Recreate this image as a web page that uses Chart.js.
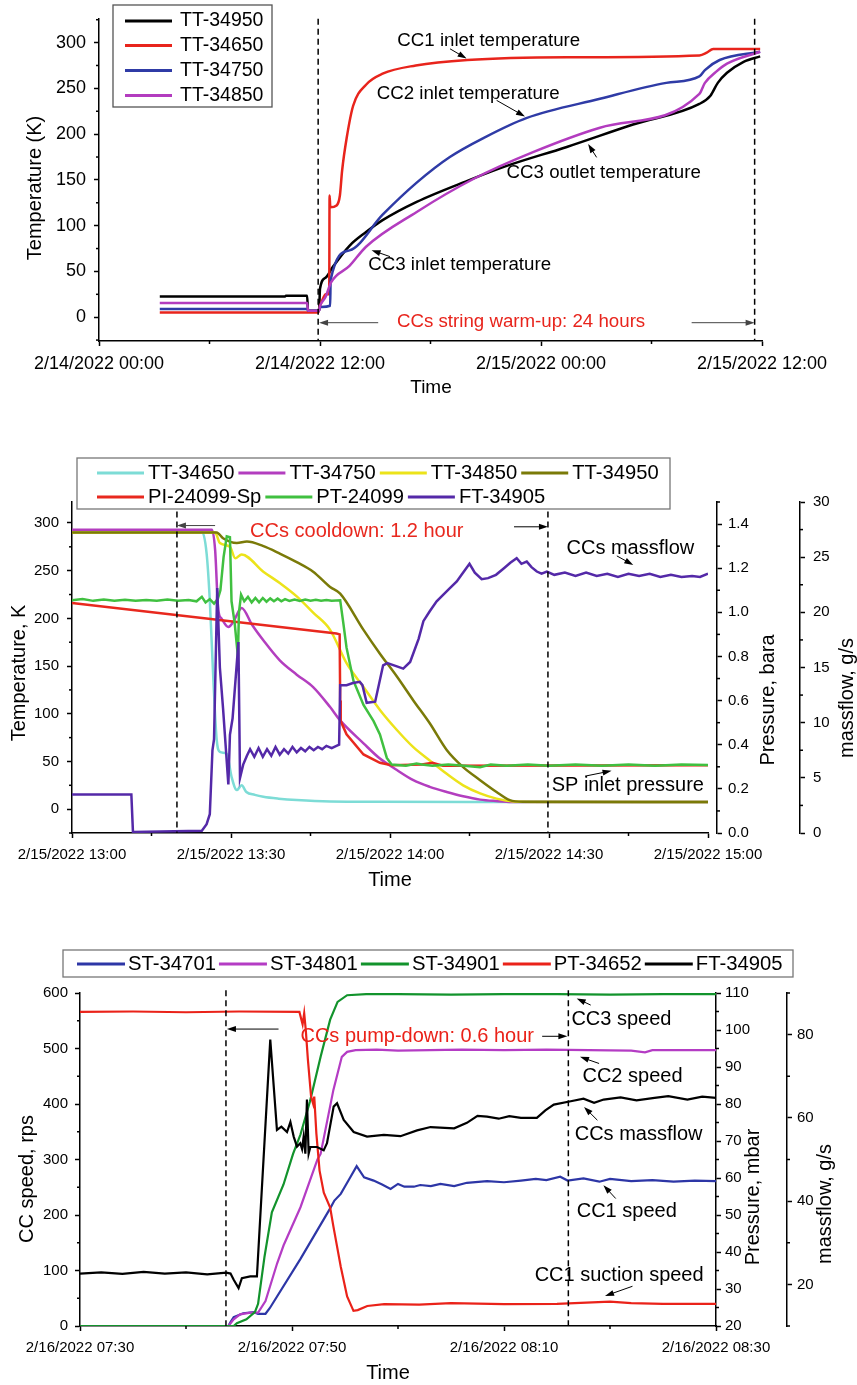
<!DOCTYPE html>
<html>
<head>
<meta charset="utf-8">
<title>CCs string warm-up, cooldown and pump-down</title>
<script src="https://cdn.jsdelivr.net/npm/chart.js@4.4.1/dist/chart.umd.min.js"></script>
<style>
  html, body { margin: 0; padding: 0; background: #fff; }
  body { position: relative; width: 857px; height: 1385px; overflow: hidden; }
  canvas { position: absolute; left: 0; }
  #warmup { top: 0; }
  #cooldown { top: 450px; }
  #pumpdown { top: 940px; }
</style>
</head>
<body>
<canvas id="warmup" width="857" height="405"></canvas>
<canvas id="cooldown" width="857" height="450"></canvas>
<canvas id="pumpdown" width="857" height="445"></canvas>
<script>
// ---------- Panel 1 : warm-up (x = hours after 2/14/2022 00:00, y = K) ----------
const warmTickHours = [0, 12, 24, 36];
const warmTickLabels = ['2/14/2022 00:00', '2/14/2022 12:00', '2/15/2022 00:00', '2/15/2022 12:00'];
const warmTempTicks = [0, 50, 100, 150, 200, 250, 300];

const tt34950Warm = [[3.3,22.5],[10.1,22.5],[10.15,23.5],[11.3,23.5],[11.35,7],[11.95,7],[12.0,31],[12.3,43],[12.7,55],[13.6,78],[14.5,93],[15.4,106],[17.25,126],[20,149],[22.1,165],[25.4,186],[29,210.5],[32.6,233],[33.2,242],[33.6,256],[34.1,267],[35.0,279],[35.9,285]];
const tt34650Warm = [[3.3,5],[11.9,5],[12.0,12],[12.2,22],[12.3,25],[12.5,25],[12.52,133],[12.56,120],[12.9,122],[13.08,133],[13.2,160],[13.45,196],[13.8,231],[14.5,254],[15.4,266],[17.2,275],[20,281],[25.4,284],[32.6,286],[33.0,289],[33.35,293],[35.9,293]];
const tt34750Warm = [[3.3,9],[11.3,9],[11.35,7],[11.95,7],[12.0,11],[12.55,12.5],[12.58,41],[13.6,73],[15.4,112],[17.25,147],[19.05,175],[20.9,196],[23.2,217.5],[27.2,238.6],[30.8,256],[32.6,263],[32.9,270],[33.7,281],[35.9,290]];
const tt34850Warm = [[3.3,15.5],[11.3,15.5],[11.35,7],[11.95,7],[12.0,12],[12.3,22],[12.6,38],[13.6,56],[14.5,77],[17.25,115],[20.3,150.7],[23.6,180.6],[27.2,207],[32.6,244],[32.9,256],[33.5,268],[34.1,277],[35.9,290]];

// ---------- Panel 2 : cooldown (x = minutes after 2/15/2022 13:00) ----------
const coolTickMinutes = [0, 30, 60, 90, 120];
const coolTickLabels = ['2/15/2022 13:00', '2/15/2022 13:30', '2/15/2022 14:00', '2/15/2022 14:30', '2/15/2022 15:00'];
const coolTempTicks = [0, 50, 100, 150, 200, 250, 300];
const coolPressTicks = [0, 0.2, 0.4, 0.6, 0.8, 1.0, 1.2, 1.4];
const coolFlowTicks = [0, 5, 10, 15, 20, 25, 30];

const tt34650Cool = [[0,291],[24.5,291],[25.4,268],[26.0,219],[26.7,132],[27.3,73],[27.9,60],[29.2,58],[30.1,34],[31.1,20],[32.0,25],[32.9,18],[34.5,15],[36.1,13],[39,11],[42.4,9.5],[48.7,8],[58.1,7.7],[85,7.6],[120,7.6]];
const tt34750Cool = [[0,293],[26.4,293],[27.0,272],[27.6,209],[28.2,200],[29.5,191],[30.5,197],[31.5,208],[32.0,211],[34,193],[36.1,177],[39.2,156],[42.4,141],[45.5,128],[48.7,107],[50.6,93],[55,69],[58.1,53],[61.3,41],[64.4,30.4],[67.5,23.4],[70.7,18],[73.8,13.5],[77,10],[80,8.5],[83,7.6],[120,7.5]];
const tt34850Cool = [[0,290],[27.0,290],[27.9,279],[29.8,275],[30.8,263],[32.0,267],[36.1,249],[39.2,237],[42.4,223],[45.5,206],[48.7,188],[51.8,153],[55,128],[58.1,104],[61.3,83],[64.4,65],[67.5,51],[70.7,37],[73.8,25],[77,16.5],[80.1,11],[83.3,8],[88,7.5],[120,7.5]];
const tt34950Cool = [[0,290],[27.3,290],[28.5,284],[31.1,279],[33.0,280.5],[36,276],[39.2,268],[42.4,259],[45.5,249],[48.7,233],[50.6,226],[55,188],[58.1,163],[61.3,139],[64.4,114],[67.5,90],[70.7,62],[73.8,44],[77,30.4],[80.1,18],[82.6,9.4],[85.1,7.7],[120,7.5]];
const pi24099Sp = [[0,1.042],[49.9,0.904],[50.5,0.9],[50.6,0.6],[50.7,0.507],[51.8,0.447],[55,0.356],[58.1,0.318],[60.3,0.307],[66,0.31],[68,0.318],[70,0.305],[120,0.307]];
const pt24099 = [[0,1.055],[2,1.06],[4,1.052],[6,1.058],[8,1.053],[10,1.057],[12,1.052],[14,1.056],[16,1.053],[18,1.058],[20,1.052],[22,1.056],[23.5,1.05],[24.5,1.07],[25.2,1.045],[26.0,1.06],[26.8,1.04],[27.5,1.06],[28.0,1.1],[28.6,1.25],[29.2,1.344],[29.8,1.34],[30.1,1.05],[30.7,0.95],[31.3,0.8],[31.5,1.0],[31.9,1.08],[32.5,1.05],[33.2,1.07],[33.9,1.045],[34.6,1.065],[35.3,1.045],[36.0,1.065],[36.7,1.048],[37.4,1.063],[38.1,1.05],[38.8,1.062],[39.5,1.05],[40.2,1.06],[41,1.052],[42,1.058],[43,1.052],[44,1.058],[45,1.053],[46,1.057],[47,1.053],[48,1.056],[49,1.053],[50.6,1.055],[51.2,0.95],[51.8,0.84],[53.1,0.69],[55,0.58],[56.9,0.507],[58.1,0.447],[59.4,0.34],[60.3,0.31],[63,0.305],[65,0.315],[66,0.31],[68,0.305],[71,0.31],[74,0.305],[77,0.298],[79,0.31],[82,0.305],[86,0.31],[90,0.305],[95,0.31],[100,0.305],[105,0.31],[110,0.305],[115,0.31],[120,0.308]];
const ft34905Cool = [[0,3.5],[11.2,3.5],[11.5,0.1],[24.5,0.2],[25.4,0.8],[26.0,1.7],[26.5,7.5],[26.8,8.5],[27.4,22.2],[27.9,15],[28.5,11.3],[29.5,4.4],[29.8,8.9],[30.3,10.4],[31.4,17.3],[31.7,5.0],[32.3,6.2],[33.0,7.0],[33.6,7.6],[34.4,6.9],[35.2,7.7],[36.0,6.9],[36.8,7.6],[37.6,7.0],[38.4,7.8],[39.2,7.1],[40.0,7.6],[40.8,7.2],[41.6,7.8],[42.4,7.3],[43.2,7.7],[44.0,7.4],[44.8,7.8],[45.6,7.5],[46.4,7.8],[47.2,7.6],[48.0,7.9],[49.0,7.7],[49.9,7.9],[50.4,8.0],[50.6,13.4],[51.8,13.4],[53,13.6],[54.3,13.7],[54.8,13.4],[55.6,11.8],[57.2,11.9],[58.7,15.2],[59.5,15.4],[61.3,15.1],[62.5,14.9],[63.8,15.5],[65.4,17.6],[66.3,19.2],[67.5,20.1],[68.8,21],[71.3,22.2],[72.6,22.8],[73.5,23.4],[75,24.4],[76,23.6],[77.3,23.0],[78.5,23.1],[80,23.4],[81.5,24.0],[82.7,24.5],[83.9,24.9],[84.8,24.4],[85.8,24.6],[86.7,24.1],[87.7,23.7],[88.6,23.5],[89.6,23.7],[91,23.4],[93,23.6],[95,23.3],[97,23.6],[99,23.3],[101,23.5],[103,23.2],[105,23.5],[107,23.3],[109,23.5],[111,23.2],[113,23.4],[115,23.2],[117,23.3],[118.5,23.2],[120,23.5]];

// ---------- Panel 3 : pump-down (x = minutes after 2/16/2022 07:30) ----------
const pumpTickMinutes = [0, 20, 40, 60];
const pumpTickLabels = ['2/16/2022 07:30', '2/16/2022 07:50', '2/16/2022 08:10', '2/16/2022 08:30'];
const pumpSpeedTicks = [0, 100, 200, 300, 400, 500, 600];
const pumpPressTicks = [20, 30, 40, 50, 60, 70, 80, 90, 100, 110];
const pumpFlowTicks = [20, 40, 60, 80];

const st34701 = [[0,0],[14.0,0],[14.2,7],[14.5,16],[15.4,23],[16.4,25],[16.8,22],[17.5,22],[17.9,32],[20.8,121],[23.6,212],[24.0,226],[24.6,238],[25.5,268],[26.1,288],[26.8,268],[27.7,262],[28.5,255],[29.3,247],[30.0,256],[30.6,251],[31.5,251],[32.1,254],[33.1,252],[34,256],[35.3,252],[36.5,258],[38.4,261],[40,259],[41.6,262],[43,265],[44,263],[45.3,269],[46,262],[47.5,266],[49,260],[50,265],[52,261],[54,263],[56,260],[58,262],[60,261]];
const st34801 = [[0,0],[14.0,0],[14.5,12],[15.1,21],[16.1,24],[16.8,24],[17.5,45],[18.6,113],[19.2,145],[20.8,214],[22.4,300],[22.7,310],[23.9,425],[24.7,485],[25.2,494],[26,497],[28,498],[30,496],[33,497],[36,498],[40,497],[44,498],[48,497],[52,496],[53.3,493],[54,497],[56,497],[60,497]];
const st34901 = [[0,0],[14.5,0],[14.8,5],[15.7,12],[16.5,25],[16.8,40],[17.4,124],[18.1,205],[19.2,255],[20.1,310],[20.8,345],[21.7,405],[22.7,485],[23.6,552],[24.3,584],[25.2,596],[27,598],[30,598],[35,597],[40,598],[45,598],[50,597],[55,598],[60,598]];
const pt34652 = [[0,104.9],[5,105],[10,104.8],[15,105],[20.7,104.9],[21.0,101.5],[21.15,104.5],[21.3,100],[21.5,92],[21.8,82],[22.0,80],[22.1,82],[22.3,72],[22.6,62],[23.0,56],[23.6,52],[23.9,47],[24.6,36],[25.2,28],[25.8,24.1],[26.2,24.3],[27.1,25.4],[28.7,25.9],[32,25.8],[35,26.2],[40,25.9],[45,26],[50,26.6],[52,26.2],[55,26],[60,26]];
const ft34905Pump = [[0,22.6],[2,22.9],[4,22.5],[6,23.0],[8,22.6],[10,22.9],[12,22.4],[13.8,22.8],[14.2,22.6],[14.5,21.1],[14.96,19.1],[15.27,21.5],[16.06,21.9],[16.69,21.9],[17.95,78.8],[18.58,57.1],[19.0,57.9],[19.53,56.6],[19.85,59],[20.16,55.5],[20.47,53.1],[20.78,53.9],[20.95,52.5],[21.1,55.5],[21.26,51.4],[21.41,64.4],[21.57,51.4],[21.73,53],[22.36,53],[22.99,52.2],[23.3,53.9],[23.93,62.7],[24.25,63.5],[24.88,59.5],[25.82,56.6],[27.08,55.5],[28.66,55.9],[30.23,55.6],[31.8,57],[33.07,57.8],[35.3,57.5],[36.5,58.8],[37.5,60.5],[38.4,60.3],[39.5,59.8],[40.5,60.4],[41.6,60],[43.1,60],[43.9,61.8],[44.7,63.2],[46.3,64],[47.5,64.6],[48.5,63.6],[49.4,64.4],[51,64.9],[52.5,64.2],[54.2,64.8],[55.5,65.2],[57.3,64.4],[58.7,65.1],[60,64.8]];

// ---------- common ----------
const FAMILY = '"Liberation Sans", Arial, sans-serif';
Chart.defaults.font.family = FAMILY;
Chart.defaults.color = '#000';

const pts = arr => arr.map(([x, y]) => ({ x, y }));

function line(label, arr, color, axis, width, smooth) {
  const ds = { label, data: pts(arr), borderColor: color, backgroundColor: color, borderWidth: width,
               pointRadius: 0, tension: 0, fill: false, yAxisID: axis };
  if (smooth) ds.cubicInterpolationMode = 'monotone';
  return ds;
}

// axis with fixed tick values and a fixed box size
function linAxis(o) {
  return {
    type: 'linear', position: o.position, min: o.min, max: o.max,
    afterBuildTicks: s => { s.ticks = o.ticks.map(v => ({ value: v })); },
    afterFit: s => { if (o.position === 'bottom') s.height = o.size; else s.width = o.size; },
    ticks: {
      callback: o.labels ? (v, i) => o.labels[i] : (o.fmt || (v => v)),
      font: { size: o.font }, padding: o.pad, maxRotation: 0, autoSkip: false, color: '#000'
    },
    grid: { drawOnChartArea: false, drawTicks: true, tickLength: 5, tickWidth: 1.5, color: '#000' },
    border: { display: true, color: '#000', width: 1.5 }
  };
}

function arrow(ctx, x1, y1, x2, y2, color) {
  const a = Math.atan2(y2 - y1, x2 - x1), c = Math.cos(a), s = Math.sin(a);
  ctx.strokeStyle = color; ctx.fillStyle = color; ctx.lineWidth = 1; ctx.setLineDash([]);
  ctx.beginPath(); ctx.moveTo(x1, y1); ctx.lineTo(x2 - 6 * c, y2 - 6 * s); ctx.stroke();
  ctx.beginPath(); ctx.moveTo(x2, y2);
  ctx.lineTo(x2 - 9 * c + 3 * s, y2 - 9 * s - 3 * c);
  ctx.lineTo(x2 - 9 * c - 3 * s, y2 - 9 * s + 3 * c);
  ctx.closePath(); ctx.fill();
}

// minor ticks, dashed markers, notes, arrows, legend box and axis titles
function extras(cfg) {
  return {
    id: 'extras',
    afterDraw(chart) {
      const ctx = chart.ctx;
      const X = v => chart.scales.x.getPixelForValue(v);
      const Y = v => chart.scales.y.getPixelForValue(v);
      ctx.save();

      ctx.strokeStyle = '#000'; ctx.lineWidth = 1.5;
      cfg.minor.forEach(([id, step]) => {
        const s = chart.scales[id];
        const majors = s.ticks.map(t => t.value);
        for (let k = Math.ceil(s.min / step - 1e-9); k * step <= s.max + 1e-9; k++) {
          const v = k * step;
          if (majors.some(m => Math.abs(m - v) < 1e-6)) continue;
          const p = s.getPixelForValue(v);
          ctx.beginPath();
          if (s.position === 'bottom') { ctx.moveTo(p, s.top); ctx.lineTo(p, s.top + 3); }
          else if (s.position === 'left') { ctx.moveTo(s.right, p); ctx.lineTo(s.right - 3, p); }
          else { ctx.moveTo(s.left, p); ctx.lineTo(s.left + 3, p); }
          ctx.stroke();
        }
      });

      ctx.setLineDash([6, 4]); ctx.lineWidth = 1.5; ctx.strokeStyle = '#000';
      cfg.dashed.forEach(([x, top]) => {
        ctx.beginPath(); ctx.moveTo(X(x), Y(top)); ctx.lineTo(X(x), chart.chartArea.bottom); ctx.stroke();
      });
      ctx.setLineDash([]);

      cfg.arrows.forEach(([x1, y1, x2, y2, color]) => arrow(ctx, X(x1), Y(y1), X(x2), Y(y2), color || '#000'));

      ctx.textAlign = 'left'; ctx.textBaseline = 'middle';
      ctx.font = cfg.noteFont + 'px ' + FAMILY;
      cfg.notes.forEach(([text, x, y, color]) => { ctx.fillStyle = color || '#000'; ctx.fillText(text, X(x), Y(y)); });

      const L = cfg.legend;
      ctx.fillStyle = '#fff'; ctx.fillRect(...L.box);
      ctx.strokeStyle = L.border; ctx.lineWidth = 1.3; ctx.strokeRect(...L.box);
      ctx.font = L.font + 'px ' + FAMILY;
      L.rows.forEach(row => {
        let x = row.x;
        row.items.forEach(i => {
          const ds = chart.data.datasets[i];
          ctx.strokeStyle = ds.borderColor; ctx.lineWidth = 3;
          ctx.beginPath(); ctx.moveTo(x, row.y); ctx.lineTo(x + L.line, row.y); ctx.stroke();
          x += L.line + L.gap;
          ctx.fillStyle = '#000'; ctx.fillText(ds.label, x, row.y);
          x += ctx.measureText(ds.label).width + L.after;
        });
      });

      ctx.fillStyle = '#000'; ctx.textAlign = 'center';
      cfg.titles.forEach(([text, x, y, size, rot]) => {
        ctx.font = size + 'px ' + FAMILY;
        ctx.save(); ctx.translate(x, y); if (rot) ctx.rotate(-Math.PI / 2);
        ctx.fillText(text, 0, 0); ctx.restore();
      });
      ctx.restore();
    }
  };
}

function makeChart(id, datasets, scales, padding, cfg) {
  datasets.forEach((d, i) => { d.order = -i; });
  return new Chart(document.getElementById(id), {
    type: 'line',
    data: { datasets },
    options: {
      responsive: false, animation: false, events: [],
      layout: { padding, autoPadding: false },
      plugins: { legend: { display: false }, tooltip: { enabled: false } },
      scales
    },
    plugins: [extras(cfg)]
  });
}

// ---------- Panel 1 ----------
makeChart('warmup', [
  line('TT-34950', tt34950Warm, '#000000', 'y', 2.5, true),
  line('TT-34650', tt34650Warm, '#e8241c', 'y', 2.5, true),
  line('TT-34750', tt34750Warm, '#2f3ba6', 'y', 2.5, true),
  line('TT-34850', tt34850Warm, '#b33cbf', 'y', 2.5, true)
], {
  x: linAxis({ position: 'bottom', min: 0, max: 36, ticks: warmTickHours, labels: warmTickLabels, size: 59, font: 18, pad: 7 }),
  y: linAxis({ position: 'left', min: -26, max: 326, ticks: warmTempTicks, size: 76, font: 18, pad: 8 })
}, { left: 23, top: 7, right: 95, bottom: 5 }, {
  minor: [['x', 6], ['y', 25]],
  dashed: [[11.9, 326], [35.6, 326]],
  noteFont: 18.7,
  notes: [
    ['CC1 inlet temperature', 16.2, 302],
    ['CC2 inlet temperature', 15.08, 244],
    ['CC3 outlet temperature', 22.13, 157.7],
    ['CC3 inlet temperature', 14.62, 57.3],
    ['CCs string warm-up: 24 hours', 16.18, -5.3, '#e8241c']
  ],
  arrows: [
    [19.06, 293.2, 19.96, 282.6], [21.59, 236.9, 23.13, 219.3],
    [27.02, 174.6, 26.56, 189.3], [15.8, 66.2, 14.8, 73.2],
    [15.16, -6, 11.95, -6, '#444'], [32.18, -6, 35.6, -6, '#444']
  ],
  legend: { box: [113, 5, 159, 102], border: '#555', font: 19.5, line: 47, gap: 8, after: 0,
    rows: [{ x: 125, y: 21, items: [0] }, { x: 125, y: 45.5, items: [1] }, { x: 125, y: 70.5, items: [2] }, { x: 125, y: 95.5, items: [3] }] },
  titles: [['Temperature (K)', 35, 188, 20, true], ['Time', 431, 388, 19, false]]
});

// ---------- Panel 2 ----------
makeChart('cooldown', [
  line('TT-34650', tt34650Cool, '#7ddcd6', 'y', 2.5, true),
  line('TT-34750', tt34750Cool, '#b33ebf', 'y', 2.5, true),
  line('TT-34850', tt34850Cool, '#ece31a', 'y', 2.5, true),
  line('TT-34950', tt34950Cool, '#7a7a08', 'y', 2.5, true),
  line('PI-24099-Sp', pi24099Sp, '#e8281e', 'p', 2.5, false),
  line('PT-24099', pt24099, '#40c040', 'p', 2.5, false),
  line('FT-34905', ft34905Cool, '#5429a8', 'm', 2.5, false)
], {
  x: linAxis({ position: 'bottom', min: 0, max: 120, ticks: coolTickMinutes, labels: coolTickLabels, size: 61, font: 15, pad: 8 }),
  y: linAxis({ position: 'left', min: -25, max: 322, ticks: coolTempTicks, size: 65, font: 15, pad: 8 }),
  gap: { type: 'linear', position: 'right', grid: { display: false }, border: { display: false },
         ticks: { display: false }, afterFit: s => { s.width = 9; } },
  p: linAxis({ position: 'right', min: 0, max: 1.5, ticks: coolPressTicks, fmt: v => v.toFixed(1), size: 83, font: 15, pad: 6 }),
  m: linAxis({ position: 'right', min: 0, max: 30, ticks: coolFlowTicks, size: 57, font: 15, pad: 8 })
}, { left: 7, top: 52, right: 0, bottom: 6 }, {
  minor: [['x', 15], ['y', 25], ['p', 0.1], ['m', 2.5]],
  dashed: [[19.8, 312], [89.8, 312]],
  noteFont: 20,
  notes: [
    ['CCs cooldown: 1.2 hour', 33.6, 291, '#e8281e'],
    ['CCs massflow', 93.3, 273.5],
    ['SP inlet pressure', 90.5, 25.2]
  ],
  arrows: [
    [27, 297.3, 19.8, 297.3, '#444'], [83.4, 296, 89.8, 296],
    [102.8, 265.5, 105.9, 256], [96.8, 34.6, 101.8, 40.2]
  ],
  legend: { box: [77, 8, 593, 51], border: '#777', font: 20.2, line: 47, gap: 4, after: 4,
    rows: [{ x: 97, y: 23, items: [0, 1, 2, 3] }, { x: 97, y: 47, items: [4, 5, 6] }] },
  titles: [['Temperature, K', 19, 223, 20, true], ['Pressure, bara', 768, 250, 20, true],
           ['massflow, g/s', 847, 248, 20, true], ['Time', 390, 430, 20, false]]
});

// ---------- Panel 3 ----------
makeChart('pumpdown', [
  line('ST-34701', st34701, '#2d36a6', 'y', 2.2, false),
  line('ST-34801', st34801, '#b43cc4', 'y', 2.2, false),
  line('ST-34901', st34901, '#12932c', 'y', 2.2, false),
  line('PT-34652', pt34652, '#ea2219', 'p', 2.2, false),
  line('FT-34905', ft34905Pump, '#000000', 'm', 2.2, false)
], {
  x: linAxis({ position: 'bottom', min: 0, max: 60, ticks: pumpTickMinutes, labels: pumpTickLabels, size: 59, font: 15, pad: 8 }),
  y: linAxis({ position: 'left', min: 0, max: 600, ticks: pumpSpeedTicks, size: 65, font: 15, pad: 7 }),
  p: linAxis({ position: 'right', min: 20, max: 110, ticks: pumpPressTicks, size: 71, font: 15, pad: 4 }),
  m: linAxis({ position: 'right', min: 10, max: 90, ticks: pumpFlowTicks, size: 70, font: 15, pad: 5 })
}, { left: 15, top: 53, right: 0, bottom: 0 }, {
  minor: [['x', 10], ['y', 50], ['p', 5], ['m', 10]],
  dashed: [[13.77, 605], [46.07, 605]],
  noteFont: 20,
  notes: [
    ['CCs pump-down: 0.6 hour', 20.8, 521, '#ea2219'],
    ['CC3 speed', 46.36, 552.4],
    ['CC2 speed', 47.4, 449],
    ['CCs massflow', 46.67, 345.4],
    ['CC1 speed', 46.86, 206.8],
    ['CC1 suction speed', 42.89, 91.4]
  ],
  arrows: [
    [18.73, 535, 13.86, 535], [43.6, 522, 45.98, 522],
    [48.18, 578.2, 46.86, 590.2], [48.97, 473, 47.17, 485],
    [48.81, 370.8, 47.55, 394.8], [50.54, 229.7, 49.38, 253.7],
    [52.12, 71.6, 49.53, 54.1]
  ],
  legend: { box: [63, 10, 730, 27], border: '#777', font: 20.3, line: 48, gap: 3, after: 3,
    rows: [{ x: 77, y: 24, items: [0, 1, 2, 3, 4] }] },
  titles: [['CC speed, rps', 27, 239, 20, true], ['Pressure, mbar', 753, 257, 20, true],
           ['massflow, g/s', 825, 264, 20, true], ['Time', 388, 433, 20, false]]
});
</script>
</body>
</html>
